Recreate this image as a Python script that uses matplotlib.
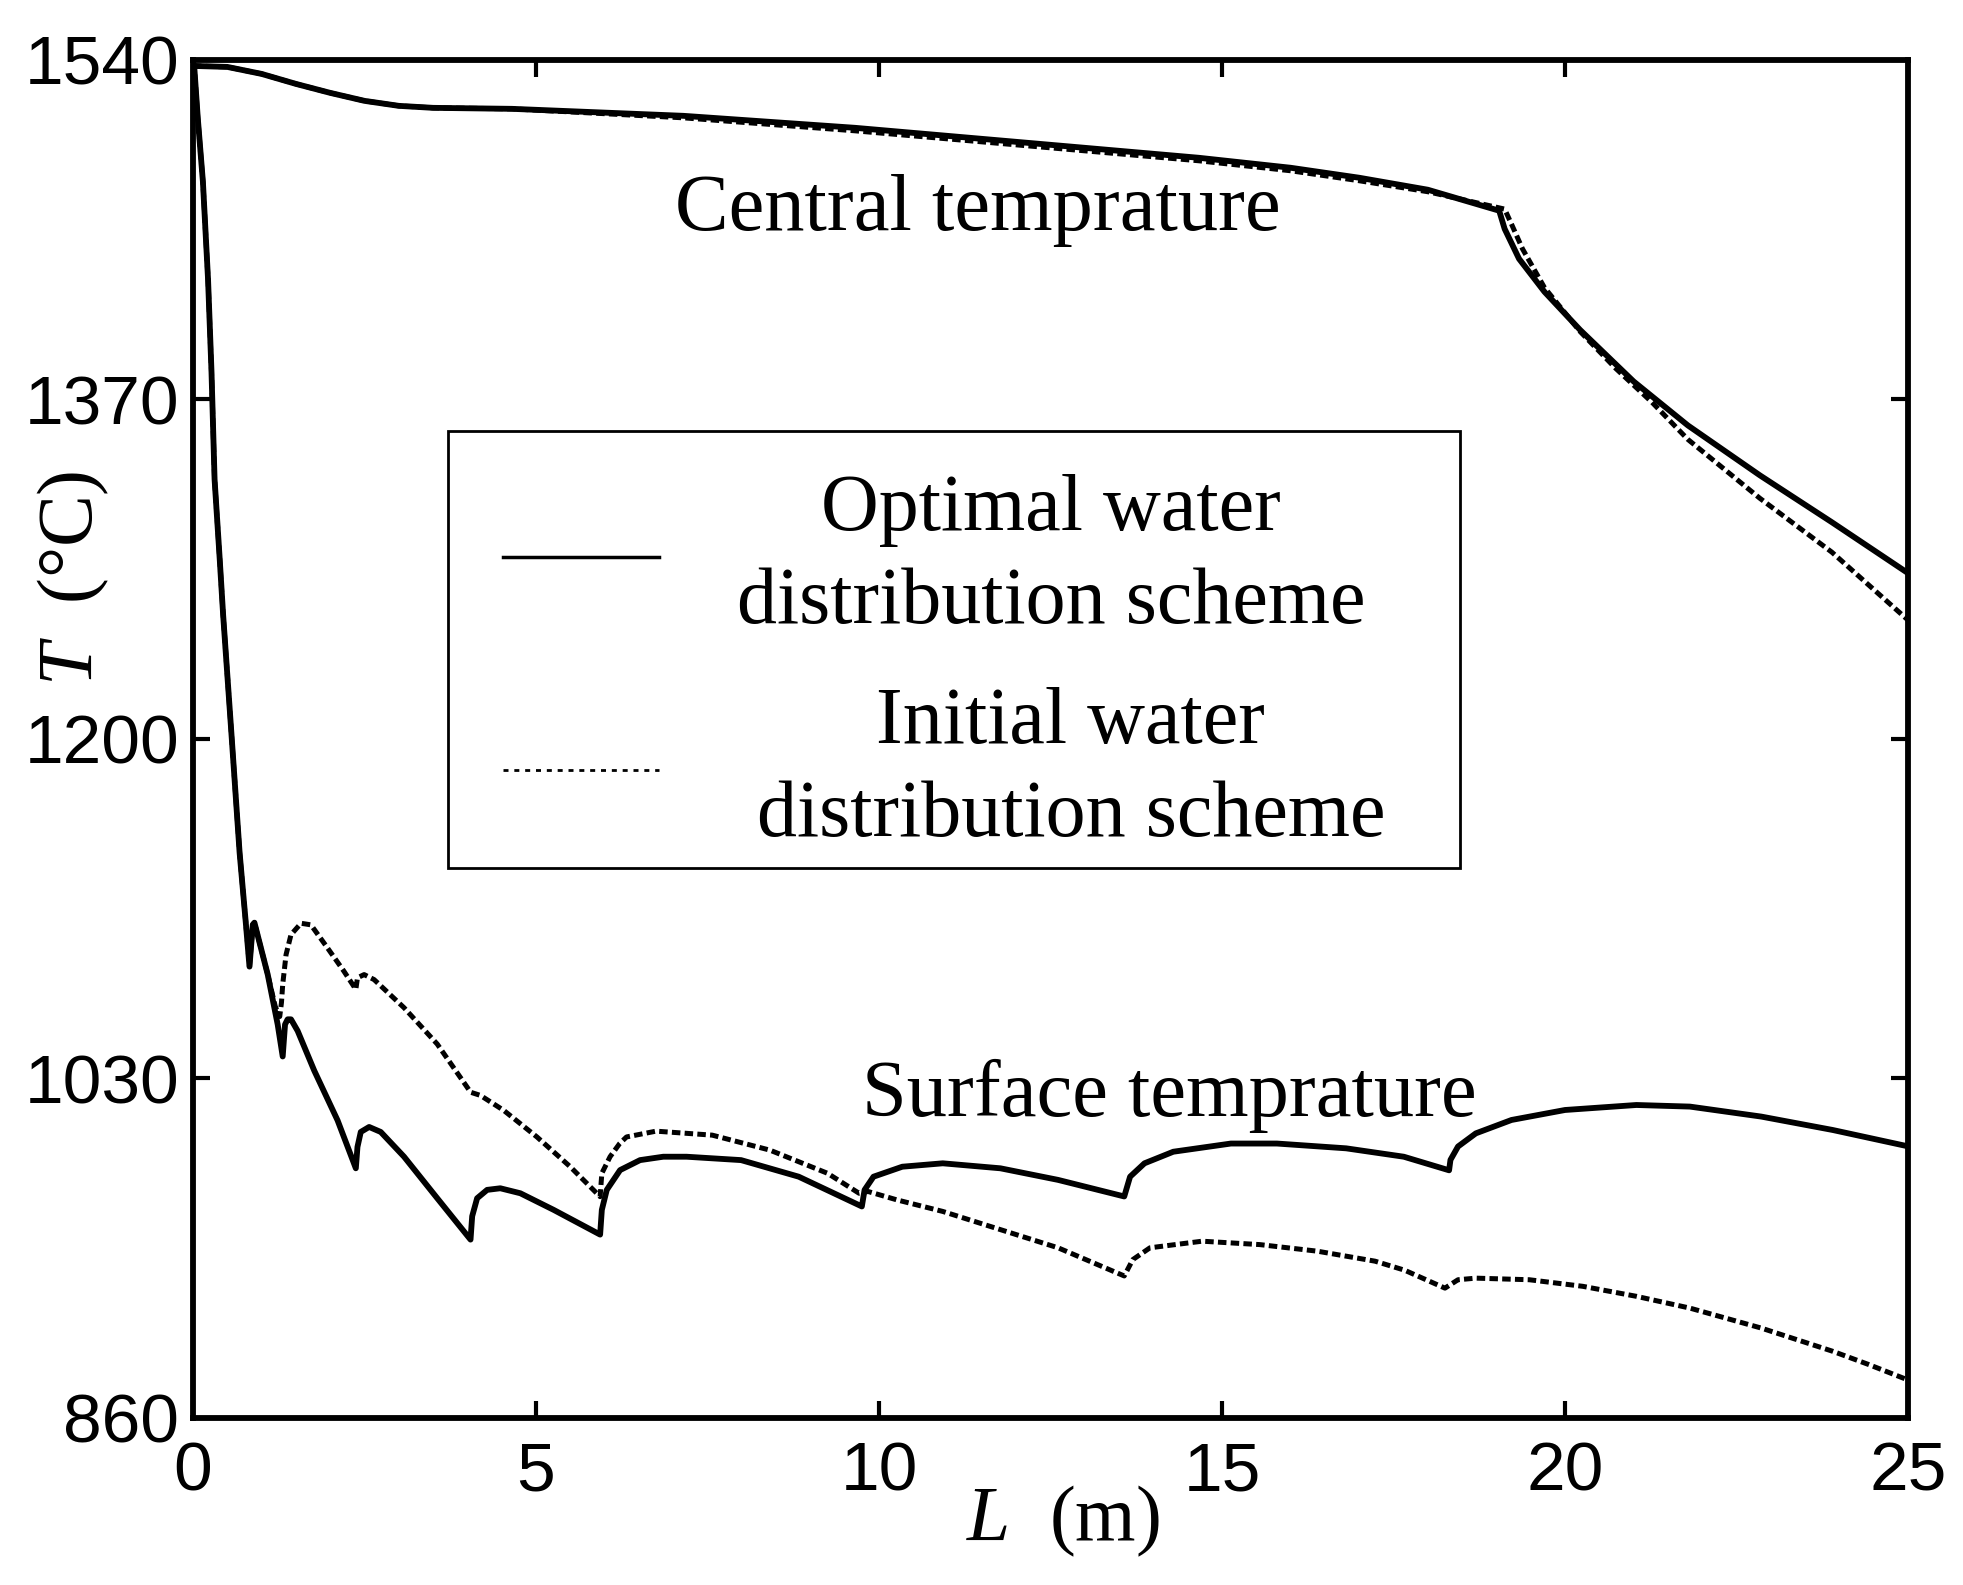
import matplotlib
matplotlib.use("Agg")
import matplotlib.pyplot as plt
from matplotlib.lines import Line2D
from matplotlib.patches import Rectangle

# central temperature, optimal scheme (solid)
central_opt_x = [0.0, 0.5, 1.0, 1.5, 2.0, 2.5, 3.0, 3.5, 4.65, 7.15, 9.65, 12.16, 14.66,
                 16.0, 17.0, 18.0, 19.04, 19.12, 19.33, 19.70, 20.22, 21.0, 21.79, 22.84,
                 23.89, 25.0]
central_opt_y = [1537, 1536.5, 1533, 1528, 1523.5, 1519.5, 1517, 1516, 1515.5, 1512, 1506,
                 1498.5, 1491, 1486, 1481, 1475, 1464.5, 1455.4, 1440.4, 1423.9, 1404.8,
                 1379, 1357, 1332, 1308.5, 1283]

# central temperature, initial scheme (dashed)
central_init_x = [0.0, 0.5, 1.0, 1.5, 2.0, 2.5, 3.0, 3.5, 4.65, 7.15, 9.65, 12.16, 14.66,
                  16.0, 17.0, 18.0, 19.12, 19.23, 19.38, 19.70, 20.22, 20.74, 21.27, 21.79,
                  22.84, 23.89, 25.0]
central_init_y = [1537, 1536.5, 1533, 1528, 1523.5, 1519.5, 1517, 1516, 1515.5, 1511, 1504.5,
                  1497, 1489.5, 1484.5, 1479.5, 1474, 1465.3, 1457, 1445.4, 1426, 1404,
                  1385.5, 1368.5, 1350, 1320.5, 1293.5, 1259.5]

# surface temperature, optimal scheme (solid)
surface_opt_x = [0.0, 0.02, 0.07, 0.145, 0.22, 0.27, 0.315, 0.39, 0.44, 0.56, 0.68, 0.77,
                 0.824, 0.872, 0.896, 1.09, 1.235, 1.308, 1.342, 1.38, 1.429, 1.526, 1.768,
                 2.108, 2.374, 2.398, 2.446, 2.568, 2.737, 3.077, 3.561, 4.046, 4.07, 4.142,
                 4.288, 4.48, 4.772, 5.257, 5.935, 5.96, 6.032, 6.226, 6.517, 6.856, 7.195,
                 7.99, 8.83, 9.75, 9.79, 9.92, 10.34, 10.93, 11.77, 12.61, 13.575, 13.66,
                 13.87, 14.29, 15.13, 15.8, 16.81, 17.65, 18.31, 18.33, 18.44, 18.70, 19.22,
                 20.0, 21.04, 21.82, 22.86, 23.9, 25.0]
surface_opt_y = [1539, 1536, 1511, 1479, 1430, 1384, 1330, 1290, 1262, 1203, 1143, 1108,
                 1086, 1107, 1108, 1082, 1057, 1041, 1057, 1059.6, 1059.6, 1053.8, 1033.9,
                 1009, 985, 995.7, 1003.2, 1005.7, 1003.2, 990.8, 970, 949.3, 961, 970,
                 974.2, 975, 972.5, 964.2, 951.8, 964.2, 974.2, 984.1, 989.1, 990.8, 990.8,
                 989.1, 980.8, 965.9, 974.2, 980.8, 985.8, 987.5, 985, 979.2, 970.9, 980.8,
                 987.5, 993.3, 997.4, 997.4, 995, 990.8, 984, 989.2, 995.9, 1002.5, 1009.2,
                 1014.2, 1016.7, 1015.9, 1010.9, 1004.2, 996]

# surface temperature, initial scheme (dashed)
surface_init_x = [0.0, 0.02, 0.07, 0.145, 0.22, 0.27, 0.315, 0.39, 0.44, 0.56, 0.68, 0.77,
                  0.824, 0.872, 0.896, 1.09, 1.2, 1.265, 1.29, 1.308, 1.357, 1.429, 1.575,
                  1.72, 1.962, 2.2, 2.374, 2.398, 2.495, 2.64, 3.077, 3.561, 3.997, 4.046,
                  4.19, 4.53, 5.014, 5.499, 5.935, 5.96, 6.08, 6.22, 6.32, 6.75, 7.57, 8.41,
                  9.25, 9.71, 9.84, 10.26, 10.93, 11.77, 12.61, 13.575, 13.7, 13.95, 14.71,
                  15.55, 16.39, 17.23, 17.66, 18.25, 18.44, 18.7, 19.48, 20.26, 21.04,
                  21.82, 22.86, 23.9, 24.43, 25.0]
surface_init_y = [1539, 1536, 1511, 1479, 1430, 1384, 1330, 1290, 1262, 1203, 1143, 1108,
                  1086, 1107, 1108, 1082, 1066, 1061, 1068, 1077, 1092, 1102, 1107.7,
                  1106.9, 1095.3, 1083.7, 1074.6, 1080.4, 1082, 1079.5, 1065.4, 1047.2,
                  1025.6, 1023.1, 1021.5, 1014, 1000.7, 985.8, 970.8, 982.5, 990.8, 997.4,
                  1000.7, 1003.6, 1001.6, 994.1, 982.5, 972.5, 973.4, 969.2, 963.4, 954.3,
                  945.2, 931.1, 939.3, 945.2, 948.5, 946.8, 943.5, 938.5, 934, 925, 929.2,
                  930, 929.2, 925.9, 920.9, 915, 905, 893.4, 886.7, 879]

x_ticks = [0, 5, 10, 15, 20, 25]
y_ticks = [860, 1030, 1200, 1370, 1540]
legend_labels = ["Optimal water\ndistribution scheme", " Initial water\n distribution scheme"]

plt.rcParams["font.family"] = ["Liberation Serif", "DejaVu Serif"]
plt.rcParams["mathtext.fontset"] = "custom"
plt.rcParams["mathtext.rm"] = "Liberation Serif"
plt.rcParams["mathtext.it"] = "Liberation Serif:italic"

fig = plt.figure(figsize=(19.63, 15.85), dpi=100)
ax = fig.add_axes([0.0983, 0.1054, 0.8737, 0.8568])

dash = (1.7, 0.85)
ax.plot(central_init_x, central_init_y, color="k", lw=3.6, dashes=dash)
ax.plot(surface_init_x, surface_init_y, color="k", lw=3.6, dashes=dash)
ax.plot(central_opt_x, central_opt_y, color="k", lw=4.2)
ax.plot(surface_opt_x, surface_opt_y, color="k", lw=4.2)

ax.set_xlim(0, 25)
ax.set_ylim(860, 1540)
ax.set_xticks(x_ticks)
ax.set_yticks(y_ticks)
ax.tick_params(direction="in", length=12, width=3, top=True, right=True, labelsize=50)
ax.tick_params(axis="x", pad=16)
ax.tick_params(axis="y", pad=10)
for lab in ax.get_xticklabels() + ax.get_yticklabels():
    lab.set_fontfamily("Liberation Sans")
for sp in ax.spines.values():
    sp.set_linewidth(4.2)

ax.set_xlabel(r"$L$  (m)", fontsize=56)
ax.xaxis.set_label_coords(0.507, -0.048)
ax.xaxis.label.set_va("top")
ax.set_ylabel(r"$T$  (°C)", fontsize=56)
ax.yaxis.set_label_coords(-0.048, 0.6186)

ax.text(7.02, 1455, "Central temprature", fontsize=58, va="baseline", ha="left")
ax.text(9.75, 1011, "Surface temprature", fontsize=58, va="baseline", ha="left")

# legend: plain box drawn separately, entries placed inside it
ax.add_patch(Rectangle((0.1487, 0.4050), 0.5901, 0.3214, transform=ax.transAxes,
                       facecolor="white", edgecolor="k", lw=2.0, zorder=4))
handles = [
    Line2D([], [], color="k", lw=2.5),
    Line2D([], [], color="k", lw=2.0, linestyle=(0, (1.8, 2.1))),
]
leg = ax.legend(handles, legend_labels, loc="upper left", bbox_to_anchor=(0.1810, 0.6950),
                borderaxespad=0, borderpad=0, fontsize=57.6, handlelength=1.94,
                handletextpad=0.975, labelspacing=0.59, frameon=False)
leg.set_zorder(5)
for t in leg.get_texts():
    t.set_multialignment("center")
    t.set_linespacing(1.35)

fig.savefig("out.png", dpi=100)
